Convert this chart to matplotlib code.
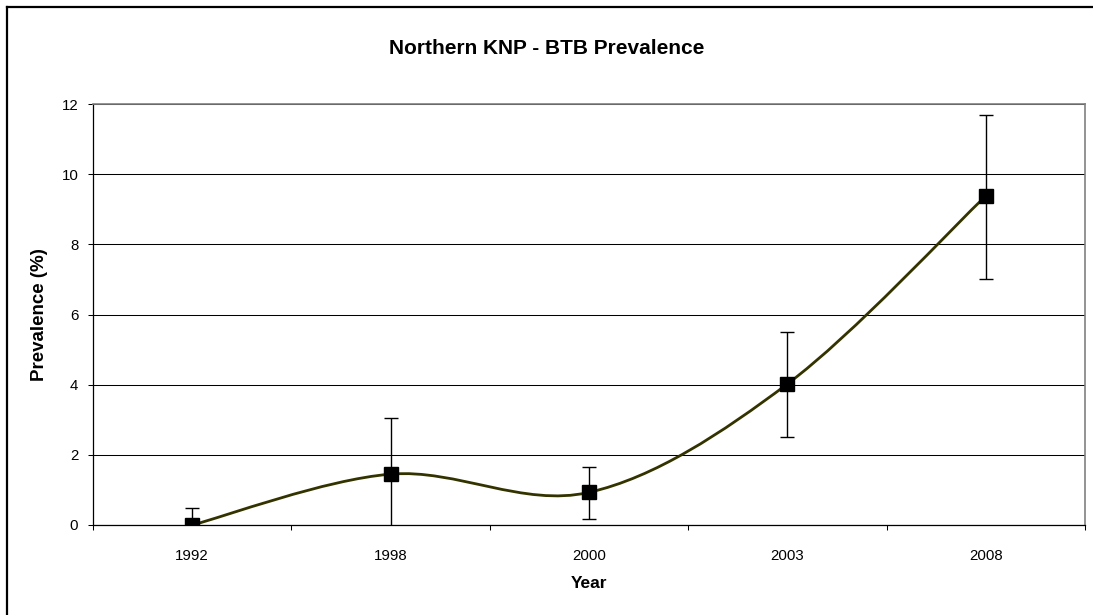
import numpy as np
import matplotlib
matplotlib.use('Agg')
import matplotlib.pyplot as plt
from matplotlib.path import Path
from matplotlib.patches import PathPatch
from matplotlib.lines import Line2D
from matplotlib.ticker import FixedLocator, MultipleLocator

plt.rcParams['font.family'] = ['Liberation Sans', 'DejaVu Sans']

# survey years and prevalence with confidence bounds
years = ['1992', '1998', '2000', '2003', '2008']
prevalence = [0.0, 1.45, 0.93, 4.02, 9.38]
ci_low = [0.0, -0.06, 0.17, 2.51, 7.01]
ci_high = [0.49, 3.06, 1.66, 5.51, 11.70]

LINE_COLOR = '#333300'


def smooth_path(xs, ys):
    # Excel-style smoothed line: cubic Bezier segments, control points at 1/6 of neighbour span
    pts = np.column_stack([xs, ys]).astype(float)
    n = len(pts)
    verts = [pts[0]]
    codes = [Path.MOVETO]
    for i in range(n - 1):
        p_prev = pts[i - 1] if i > 0 else pts[i]
        p_next2 = pts[i + 2] if i + 2 < n else pts[i + 1]
        c1 = pts[i] + (pts[i + 1] - p_prev) / 6.0
        c2 = pts[i + 1] - (p_next2 - pts[i]) / 6.0
        verts += [c1, c2, pts[i + 1]]
        codes += [Path.CURVE4] * 3
    return Path(verts, codes)


fig = plt.figure(figsize=(10.93, 6.15), dpi=100)
fig.set_facecolor('white')
W, H = 1093, 615
ax = fig.add_axes([93 / W, (H - 525) / H, (1085 - 93) / W, (525 - 104) / H])

x = np.arange(len(years))
prev = np.array(prevalence)
yerr = [prev - np.array(ci_low), np.array(ci_high) - prev]

ax.add_patch(PathPatch(smooth_path(x, prev), facecolor='none', edgecolor=LINE_COLOR,
                       lw=2.0, zorder=3, capstyle='round', joinstyle='round'))
ax.errorbar(x, prev, yerr=yerr, fmt='none', ecolor='black', elinewidth=1.0,
            capsize=5, capthick=1.0, zorder=4)
ax.plot(x, prev, linestyle='none', marker='s', markersize=10.5, color='black', zorder=5)

ax.set_xlim(-0.5, len(years) - 0.5)
ax.set_ylim(0, 12)
ax.yaxis.set_major_locator(MultipleLocator(2))
ax.xaxis.set_major_locator(FixedLocator(x))
ax.xaxis.set_minor_locator(FixedLocator(np.arange(len(years) + 1) - 0.5))
ax.set_xticklabels(years)

ax.grid(axis='y', color='black', lw=0.75)
ax.set_axisbelow(True)
ax.tick_params(axis='y', direction='out', length=3.6, width=0.75, pad=7, labelsize=10.8)
ax.tick_params(axis='x', which='major', length=0, pad=17, labelsize=10.8)
ax.tick_params(axis='x', which='minor', direction='out', length=3.6, width=0.75)

for side in ['top', 'right']:
    ax.spines[side].set_color('#808080')
    ax.spines[side].set_linewidth(1.2)
for side in ['left', 'bottom']:
    ax.spines[side].set_color('black')
    ax.spines[side].set_linewidth(0.9)

ax.set_xlabel('Year', fontsize=12.5, fontweight='bold')
ax.xaxis.set_label_coords(0.5, -(583 - 525) / (525 - 104))
ax.xaxis.label.set_va('center')
ax.set_ylabel('Prevalence (%)', fontsize=13.5, fontweight='bold')
ax.yaxis.set_label_coords(-(93 - 40) / (1085 - 93), 0.5)
ax.yaxis.label.set_va('center')

fig.text(0.5, 1 - 48 / H, 'Northern KNP - BTB Prevalence', ha='center', va='center',
         fontsize=15, fontweight='bold')

# outer chart border (left and top edges)
fig.add_artist(Line2D([7 / W, 7 / W], [0, 1 - 7 / H], color='black', lw=1.6))
fig.add_artist(Line2D([7 / W, 1], [1 - 7 / H, 1 - 7 / H], color='black', lw=1.6))

fig.savefig('out.png', dpi=100)
